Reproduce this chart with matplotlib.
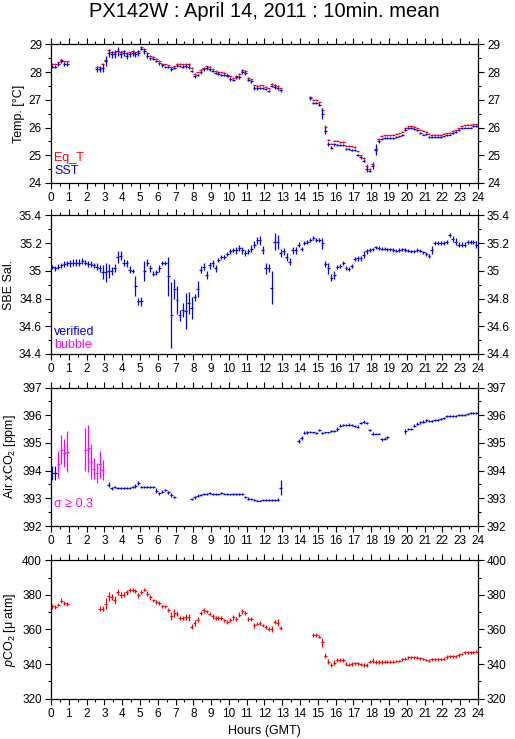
import numpy as np
import matplotlib
matplotlib.use('Agg')
import matplotlib.pyplot as plt
from matplotlib.ticker import MultipleLocator, FormatStrFormatter

plt.rcParams['font.family'] = ['Liberation Sans', 'DejaVu Sans']
plt.rcParams['mathtext.fontset'] = 'custom'
plt.rcParams['mathtext.rm'] = 'Liberation Sans'
plt.rcParams['mathtext.it'] = 'Liberation Sans:italic'

nan = np.nan

# 10 min slots, one row per hour (0 .. 23)
sst = [
    28.2, 28.2, 28.3, 28.4, 28.3, 28.3,
    nan, nan, nan, nan, nan, nan,
    nan, nan, nan, 28.1, 28.1, 28.15,
    28.4, 28.7, 28.65, 28.65, 28.75, 28.65,
    28.7, 28.6, 28.65, 28.7, 28.65, 28.7,
    28.85, 28.75, 28.6, 28.5, 28.48, 28.4,
    28.32, 28.25, 28.2, 28.2, 28.1, 28.15,
    28.25, 28.22, 28.2, 28.22, 28.2, 28.05,
    27.85, 27.9, 28.0, 28.1, 28.15, 28.1,
    28.05, 27.97, 27.95, 27.9, 27.9, 27.88,
    27.75, 27.72, 27.82, 27.83, 28.0, 27.97,
    27.73, 27.67, 27.42, 27.42, 27.42, 27.42,
    27.4, 27.33, 27.5, 27.48, 27.42, 27.35,
    nan, nan, nan, nan, nan, nan,
    nan, nan, nan, 27.05, 26.9, 26.9,
    26.82, 26.5, 25.88, 25.4, 25.27, 25.4,
    25.38, 25.38, 25.38, 25.22, 25.22, 25.2,
    25.2, 25.0, 24.93, 24.8, 24.5, 24.43,
    24.6, 25.2, 25.5, 25.58, 25.63, 25.63,
    25.63, 25.63, 25.65, 25.68, 25.73, 25.93,
    25.98, 25.98, 25.95, 25.9, 25.8, 25.75,
    25.77, 25.65, 25.65, 25.65, 25.65, 25.65,
    25.68, 25.72, 25.75, 25.8, 25.83, 25.92,
    25.97, 26.0, 26.0, 26.0, 26.05, 26.05,
]
sst_err = [
    0.06, 0.05, 0.07, 0.08, 0.08, 0.08,
    0, 0, 0, 0, 0, 0,
    0, 0, 0, 0.08, 0.08, 0.15,
    0.18, 0.15, 0.12, 0.14, 0.15, 0.12,
    0.1, 0.12, 0.09, 0.1, 0.09, 0.1,
    0.06, 0.08, 0.08, 0.06, 0.05, 0.05,
    0.05, 0.05, 0.04, 0.04, 0.05, 0.05,
    0.06, 0.05, 0.05, 0.07, 0.08, 0.04,
    0.06, 0.05, 0.05, 0.05, 0.06, 0.05,
    0.04, 0.05, 0.05, 0.04, 0.04, 0.04,
    0.06, 0.05, 0.06, 0.06, 0.08, 0.06,
    0.06, 0.06, 0.07, 0.05, 0.04, 0.04,
    0.04, 0.04, 0.05, 0.07, 0.05, 0.05,
    0, 0, 0, 0, 0, 0,
    0, 0, 0, 0.06, 0.04, 0.04,
    0.05, 0.2, 0.12, 0.08, 0.05, 0.05,
    0.04, 0.04, 0.04, 0.04, 0.04, 0.04,
    0.04, 0.04, 0.05, 0.06, 0.1, 0.05,
    0.1, 0.2, 0.06, 0.04, 0.03, 0.03,
    0.03, 0.03, 0.03, 0.03, 0.04, 0.04,
    0.03, 0.03, 0.03, 0.03, 0.03, 0.03,
    0.03, 0.03, 0.03, 0.03, 0.03, 0.03,
    0.03, 0.03, 0.03, 0.03, 0.03, 0.03,
    0.03, 0.03, 0.03, 0.03, 0.03, 0.03,
]
eq_t = [
    28.3, 28.3, 28.35, 28.45, 28.4, 28.4,
    nan, nan, nan, nan, nan, nan,
    nan, nan, nan, 28.2, 28.2, 28.3,
    28.45, 28.8, 28.72, 28.72, 28.78, 28.72,
    28.75, 28.68, 28.72, 28.75, 28.72, 28.75,
    28.9, 28.85, 28.7, 28.6, 28.55, 28.48,
    28.42, 28.3, 28.28, 28.25, 28.18, 28.22,
    28.3, 28.3, 28.28, 28.3, 28.3, 28.15,
    27.95, 28.0, 28.08, 28.15, 28.22, 28.2,
    28.1, 28.05, 28.02, 28.0, 27.97, 27.9,
    27.85, 27.8, 27.88, 27.95, 28.08, 28.05,
    27.8, 27.75, 27.52, 27.5, 27.52, 27.52,
    27.48, 27.42, 27.58, 27.55, 27.5, 27.42,
    nan, nan, nan, nan, nan, nan,
    nan, nan, nan, 27.12, 27.0, 27.0,
    26.92, 26.62, 26.02, 25.55, 25.42, 25.52,
    25.52, 25.48, 25.48, 25.35, 25.35, 25.32,
    25.3, 25.15, 25.0, 24.9, 24.62, 24.52,
    24.68, 25.22, 25.58, 25.68, 25.72, 25.72,
    25.72, 25.75, 25.78, 25.8, 25.85, 26.0,
    26.05, 26.05, 26.02, 25.98, 25.92, 25.88,
    25.85, 25.78, 25.75, 25.75, 25.75, 25.75,
    25.78, 25.8, 25.82, 25.88, 25.9, 25.98,
    26.05, 26.08, 26.1, 26.1, 26.12, 26.12,
]
eq_t_err = [
    0.02, 0.02, 0.02, 0.03, 0.02, 0.02,
    0, 0, 0, 0, 0, 0,
    0, 0, 0, 0.02, 0.02, 0.03,
    0.06, 0.04, 0.03, 0.03, 0.03, 0.03,
    0.03, 0.03, 0.02, 0.02, 0.02, 0.02,
    0.03, 0.02, 0.02, 0.02, 0.02, 0.02,
    0.02, 0.02, 0.02, 0.02, 0.02, 0.02,
    0.02, 0.02, 0.02, 0.02, 0.03, 0.02,
    0.02, 0.02, 0.02, 0.02, 0.02, 0.02,
    0.02, 0.02, 0.02, 0.02, 0.02, 0.02,
    0.02, 0.02, 0.02, 0.02, 0.03, 0.02,
    0.02, 0.02, 0.02, 0.02, 0.02, 0.02,
    0.02, 0.02, 0.02, 0.02, 0.02, 0.02,
    0, 0, 0, 0, 0, 0,
    0, 0, 0, 0.03, 0.02, 0.02,
    0.02, 0.1, 0.08, 0.04, 0.02, 0.02,
    0.02, 0.02, 0.02, 0.02, 0.02, 0.02,
    0.02, 0.02, 0.02, 0.02, 0.05, 0.02,
    0.06, 0.1, 0.03, 0.02, 0.02, 0.02,
    0.02, 0.02, 0.02, 0.02, 0.02, 0.02,
    0.02, 0.02, 0.02, 0.02, 0.02, 0.02,
    0.02, 0.02, 0.02, 0.02, 0.02, 0.02,
    0.02, 0.02, 0.02, 0.02, 0.02, 0.02,
    0.02, 0.02, 0.02, 0.02, 0.02, 0.02,
]

sal = [
    35.03, 35.02, 35.03, 35.04, 35.05, 35.055,
    35.055, 35.06, 35.06, 35.06, 35.07, 35.06,
    35.05, 35.05, 35.04, 35.03, 35.02, 34.99,
    34.99, 35.0, 35.0, 35.02, 35.1, 35.11,
    35.06, 35.055, 35.01, 35.0, 34.89, 34.78,
    34.78, 35.0, 35.06, 35.02, 34.98, 34.99,
    35.02, 35.055, 35.055, 34.96, 34.68, 34.87,
    34.79, 34.68, 34.72, 34.71, 34.77, 34.73,
    34.81, 34.87, 35.01, 35.03, 34.97, 35.04,
    35.055, 35.02, 35.08, 35.1, 35.1, 35.12,
    35.14, 35.15, 35.15, 35.165, 35.15, 35.13,
    35.14, 35.16, 35.19, 35.22, 35.22, 35.15,
    35.02, 35.02, 34.88, 35.21, 35.21, 35.13,
    35.14, 35.1, 35.065, 35.15, 35.15, 35.19,
    35.16, 35.2, 35.21, 35.22, 35.235, 35.22,
    35.22, 35.2, 35.05, 35.02, 34.95, 34.97,
    35.03, 35.035, 35.055, 35.02, 35.015, 35.035,
    35.085, 35.09, 35.09, 35.115, 35.14, 35.15,
    35.155, 35.17, 35.165, 35.16, 35.16, 35.155,
    35.155, 35.15, 35.145, 35.15, 35.155, 35.15,
    35.145, 35.14, 35.14, 35.15, 35.145, 35.135,
    35.12, 35.11, 35.15, 35.2, 35.2, 35.2,
    35.2, 35.21, 35.26, 35.23, 35.21, 35.19,
    35.19, 35.19, 35.21, 35.21, 35.21, 35.19,
]
sal_err = [
    0.015, 0.018, 0.018, 0.018, 0.02, 0.02,
    0.025, 0.025, 0.025, 0.025, 0.02, 0.02,
    0.02, 0.02, 0.02, 0.025, 0.025, 0.05,
    0.07, 0.05, 0.03, 0.03, 0.04, 0.03,
    0.025, 0.025, 0.025, 0.015, 0.07, 0.025,
    0.03, 0.07, 0.025, 0.025, 0.02, 0.02,
    0.025, 0.015, 0.015, 0.14, 0.24, 0.07,
    0.1, 0.04, 0.05, 0.13, 0.08, 0.08,
    0.025, 0.06, 0.025, 0.025, 0.03, 0.025,
    0.025, 0.025, 0.015, 0.015, 0.015, 0.015,
    0.015, 0.015, 0.025, 0.025, 0.025, 0.02,
    0.02, 0.025, 0.025, 0.025, 0.03, 0.03,
    0.04, 0.03, 0.12, 0.06, 0.05, 0.03,
    0.025, 0.03, 0.025, 0.025, 0.025, 0.015,
    0.015, 0.015, 0.015, 0.015, 0.015, 0.015,
    0.015, 0.04, 0.025, 0.04, 0.025, 0.03,
    0.015, 0.015, 0.015, 0.015, 0.015, 0.015,
    0.015, 0.015, 0.015, 0.025, 0.015, 0.015,
    0.012, 0.012, 0.012, 0.012, 0.012, 0.012,
    0.012, 0.012, 0.012, 0.012, 0.012, 0.012,
    0.012, 0.012, 0.012, 0.012, 0.012, 0.012,
    0.015, 0.015, 0.03, 0.015, 0.015, 0.015,
    0.015, 0.015, 0.015, 0.025, 0.025, 0.015,
    0.015, 0.015, 0.015, 0.015, 0.015, 0.025,
]

xco2 = [
    393.91, 393.91, 394.23, 394.75, 394.63, 394.68,
    nan, nan, nan, nan, nan, 394.75,
    394.81, 394.32, 394.07, 393.91, 394.23, 394.03,
    nan, 393.49, 393.36, 393.4, 393.38, 393.38,
    393.38, 393.38, 393.38, 393.4, 393.45, 393.56,
    393.4, 393.4, 393.4, 393.4, 393.4, 393.28,
    393.18, 393.24, 393.3, 393.22, 393.12, 393.06,
    nan, nan, nan, nan, nan, 392.98,
    393.03, 393.1, 393.12, 393.15, 393.16, 393.18,
    393.16, 393.15, 393.14, 393.18, 393.17, 393.16,
    393.14, 393.15, 393.16, 393.15, 393.16, 393.06,
    392.99, 392.97, 392.95, 392.92, 392.92, 392.95,
    392.95, 392.95, 392.93, 392.93, 392.95, 393.38,
    nan, nan, nan, nan, nan, 395.07,
    395.18, 395.37, 395.38, 395.4, 395.38, 395.37,
    395.46, 395.37, 395.38, 395.38, 395.42, 395.42,
    395.5, 395.62, 395.65, 395.65, 395.66, 395.66,
    395.62, 395.58, 395.71, 395.76, 395.71, 395.47,
    395.34, 395.34, 395.34, 395.13, 395.15, 395.2,
    nan, nan, nan, nan, nan, 395.43,
    395.5, 395.5, 395.62, 395.7, 395.74, 395.77,
    395.81, 395.8, 395.8, 395.82, 395.83, 395.86,
    395.9, 395.98, 395.98, 395.98, 395.98, 396.0,
    396.0, 396.0, 396.05, 396.07, 396.07, 396.07,
]
xco2_err = [
    0.25, 0.25, 0.48, 0.52, 0.5, 0.74,
    0, 0, 0, 0, 0, 0.78,
    0.85, 0.64, 0.37, 0.35, 0.48, 0.36,
    0, 0.09, 0.05, 0.04, 0.03, 0.03,
    0.03, 0.03, 0.03, 0.04, 0.06, 0.08,
    0.03, 0.03, 0.03, 0.03, 0.03, 0.09,
    0.06, 0.05, 0.04, 0.05, 0.06, 0.04,
    0, 0, 0, 0, 0, 0.03,
    0.04, 0.05, 0.04, 0.04, 0.04, 0.04,
    0.04, 0.03, 0.03, 0.04, 0.03, 0.03,
    0.03, 0.03, 0.04, 0.03, 0.05, 0.04,
    0.04, 0.03, 0.03, 0.03, 0.03, 0.03,
    0.03, 0.03, 0.03, 0.03, 0.05, 0.27,
    0, 0, 0, 0, 0, 0.07,
    0.07, 0.06, 0.04, 0.04, 0.03, 0.03,
    0.04, 0.04, 0.03, 0.03, 0.04, 0.04,
    0.08, 0.05, 0.04, 0.05, 0.05, 0.04,
    0.04, 0.05, 0.04, 0.05, 0.04, 0.05,
    0.05, 0.03, 0.03, 0.06, 0.05, 0.05,
    0, 0, 0, 0, 0, 0.09,
    0.05, 0.05, 0.05, 0.04, 0.04, 0.04,
    0.04, 0.03, 0.03, 0.03, 0.03, 0.04,
    0.04, 0.04, 0.03, 0.03, 0.03, 0.03,
    0.03, 0.03, 0.04, 0.03, 0.03, 0.04,
]

pco2 = [
    373.3, 372.9, 374.3, 376.6, 375.3, 374.7,
    nan, nan, nan, nan, nan, nan,
    nan, nan, nan, nan, 372.0, 372.0,
    374.9, 379.1, 378.7, 377.2, 381.6, 380.1,
    380.1, 381.4, 383.0, 382.6, 382.0, 379.7,
    381.6, 383.0, 380.7, 378.5, 376.8, 375.8,
    375.3, 373.3, 373.3, 371.4, 367.9, 369.5,
    369.1, 366.6, 366.6, 367.0, 367.1, 361.7,
    363.7, 365.6, 369.5, 371.0, 370.4, 369.1,
    367.5, 366.6, 366.6, 366.6, 365.2, 364.4,
    365.6, 367.1, 366.0, 368.5, 370.4, 369.5,
    366.0, 366.0, 362.5, 363.3, 363.7, 362.3,
    361.2, 360.2, 360.2, 364.4, 364.0, 360.8,
    nan, nan, nan, nan, nan, nan,
    nan, nan, nan, nan, 356.9, 356.7,
    355.9, 352.5, 344.9, 341.4, 339.5, 340.8,
    342.4, 342.4, 342.4, 340.1, 339.7, 340.1,
    340.5, 340.5, 339.9, 339.5, 339.5, 341.4,
    342.0, 341.4, 341.1, 341.1, 341.4, 341.4,
    341.4, 341.4, 341.8, 341.8, 342.8, 343.2,
    344.0, 344.0, 344.0, 343.6, 343.4, 343.0,
    342.4, 342.0, 342.8, 342.8, 342.8, 342.8,
    343.2, 344.0, 344.4, 344.4, 344.4, 345.3,
    345.9, 346.9, 346.9, 346.9, 346.9, 347.2,
]
pco2_err = [
    1.2, 1.0, 1.0, 1.4, 1.2, 1.4,
    0, 0, 0, 0, 0, 0,
    0, 0, 0, 0, 1.6, 1.4,
    3.0, 2.5, 1.8, 2.2, 1.8, 1.8,
    1.4, 1.2, 1.2, 1.2, 1.2, 1.4,
    1.2, 1.0, 1.4, 1.2, 1.0, 1.0,
    1.0, 1.0, 1.0, 1.2, 2.2, 2.5,
    1.6, 1.2, 1.2, 1.8, 2.0, 1.2,
    1.6, 1.4, 1.2, 1.2, 1.0, 1.0,
    1.4, 1.2, 1.0, 1.0, 1.0, 1.2,
    1.2, 1.4, 1.2, 1.4, 1.6, 1.4,
    1.2, 1.0, 1.4, 1.0, 1.0, 1.0,
    1.2, 1.0, 1.6, 1.2, 2.0, 1.2,
    0, 0, 0, 0, 0, 0,
    0, 0, 0, 0, 1.0, 1.0,
    1.0, 2.5, 1.6, 1.6, 1.2, 1.5,
    1.0, 1.0, 1.0, 1.4, 1.0, 1.0,
    1.0, 1.0, 1.0, 1.2, 1.0, 1.0,
    1.6, 1.2, 1.0, 1.0, 1.0, 0.8,
    0.8, 0.8, 0.8, 0.8, 0.8, 0.8,
    0.8, 0.8, 0.8, 0.8, 0.8, 0.8,
    0.8, 1.0, 0.8, 0.8, 0.8, 0.8,
    0.8, 1.0, 0.8, 0.8, 0.8, 1.0,
    0.8, 0.8, 0.8, 0.8, 0.8, 1.0,
]

# centre of each 10 min slot, in hours
t = (np.arange(144) + 0.5) / 6.0
half_slot = 1.0 / 12.0

BLUE = '#0000ff'
RED = '#ff0000'
MAG = '#ff00ff'


def crosses(ax, y, err, color):
    ax.errorbar(t, y, xerr=half_slot, yerr=err, fmt='none',
                ecolor=color, elinewidth=0.9, capsize=0)


def style(ax, ylim, major, minor, ylabel):
    ax.set_xlim(0, 24)
    ax.set_ylim(*ylim)
    ax.xaxis.set_major_locator(MultipleLocator(1))
    ax.xaxis.set_minor_locator(MultipleLocator(0.5))
    ax.yaxis.set_major_locator(MultipleLocator(major))
    ax.yaxis.set_minor_locator(MultipleLocator(minor))
    ax.yaxis.set_major_formatter(FormatStrFormatter('%g'))
    ax.tick_params(which='both', direction='out', top=True, right=True,
                   labelright=True, width=0.8, labelsize=8.5, pad=2)
    ax.tick_params(which='major', length=4.5)
    ax.tick_params(which='minor', length=2.5)
    for s in ax.spines.values():
        s.set_linewidth(0.9)
    ax.set_ylabel(ylabel, fontsize=9, labelpad=3)


fig = plt.figure(figsize=(5.15, 7.39), dpi=100)
left, width, height = 0.099, 0.829, 0.1874
bottoms = [0.7524, 0.5210, 0.2882, 0.0545]
axs = [fig.add_axes([left, b, width, height]) for b in bottoms]

# Temperature
ax = axs[0]
crosses(ax, eq_t, eq_t_err, RED)
crosses(ax, sst, sst_err, BLUE)
style(ax, (24, 29), 1, 0.5, 'Temp. [°C]')
ax.text(0.008, 0.18, 'Eq_T', color=RED, transform=ax.transAxes, fontsize=9, va='center')
ax.text(0.008, 0.085, 'SST', color=BLUE, transform=ax.transAxes, fontsize=9, va='center')

# Salinity
ax = axs[1]
crosses(ax, sal, sal_err, BLUE)
style(ax, (34.4, 35.4), 0.2, 0.1, 'SBE Sal.')
ax.text(0.008, 0.16, 'verified', color=BLUE, transform=ax.transAxes, fontsize=9, va='center')
ax.text(0.008, 0.065, 'bubble', color=MAG, transform=ax.transAxes, fontsize=9, va='center')

# Air xCO2, points with sigma >= 0.3 in magenta
ax = axs[2]
xv = np.array(xco2)
xe = np.array(xco2_err)
flag = xe >= 0.3
crosses(ax, np.where(flag, nan, xv), xe, BLUE)
crosses(ax, np.where(flag, xv, nan), xe, MAG)
style(ax, (392, 397), 1, 0.5, 'Air xCO$_2$ [ppm]')
ax.text(0.008, 0.16, 'σ ≥ 0.3', color=MAG, transform=ax.transAxes, fontsize=9, va='center')

# pCO2
ax = axs[3]
crosses(ax, pco2, pco2_err, RED)
style(ax, (320, 400), 20, 10, '$p$CO$_2$ [μ atm]')
ax.set_xlabel('Hours (GMT)', fontsize=9, labelpad=4)

fig.text(0.5136, 0.997, 'PX142W : April 14, 2011 : 10min. mean', ha='center', va='top', fontsize=14.5)

fig.savefig('out.png', dpi=100)
